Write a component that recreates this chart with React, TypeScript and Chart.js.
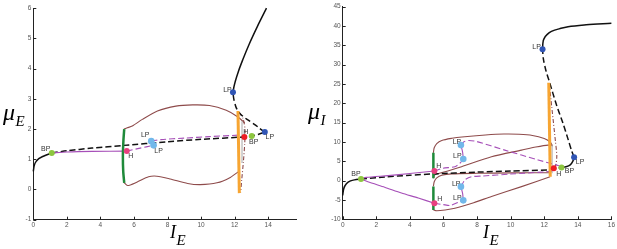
import React, { useEffect, useRef } from "react";
import { Chart, registerables } from "chart.js";
Chart.register(...registerables);

type P = [number, number];

// ===== Left panel: mu_E versus I_E =====
const eStableLow: P[] = [[0, 0.6], [0.05, 0.78], [0.2, 0.95], [0.6, 1.1], [1.1, 1.21]];
const eUnstableMid: P[] = [[1.1, 1.21], [2, 1.28], [3.5, 1.37], [5.4, 1.46], [8, 1.58], [10, 1.66], [12.58, 1.74], [13.02, 1.77], [13.4, 1.82], [13.8, 1.9]];
const eUnstableFold: P[] = [[13.8, 1.9], [13.5, 2.02], [13.2, 2.15], [12.74, 2.32], [12.34, 2.5], [12.1, 2.7], [11.95, 3.0], [11.9, 3.22]];
const eStableHigh: P[] = [[11.9, 3.22], [11.96, 3.4], [12.05, 3.6], [12.22, 3.9], [12.49, 4.3], [12.86, 4.8], [13.36, 5.4], [13.9, 6.0]];
const ePerStable: P[] = [[1.1, 1.21], [2, 1.24], [3.5, 1.26], [5.57, 1.27]];
const ePerUnstableA: P[] = [[5.57, 1.27], [6.3, 1.36], [7.17, 1.46]];
const ePerFold: P[] = [[7.17, 1.46], [7.1, 1.53], [7.03, 1.6]];
const ePerUnstableB: P[] = [[7.03, 1.6], [7.6, 1.65], [9, 1.7], [10.5, 1.75], [12.3, 1.8]];
const eOrbitTop: P[] = [[5.4, 2.0], [5.6, 2.04], [5.9, 2.1], [6.5, 2.32], [7.4, 2.6], [8.5, 2.76], [9.5, 2.8], [10.5, 2.78], [11.5, 2.62], [12.2, 2.4], [12.6, 2.2]];
const eOrbitBottom: P[] = [[5.4, 0.24], [5.62, 0.13], [6.17, 0.24], [6.87, 0.42], [7.37, 0.44], [8.16, 0.35], [9.2, 0.2], [9.95, 0.16], [10.95, 0.22], [11.74, 0.4], [12.25, 0.6]];
const eOrbitDashDot: P[] = [[12.28, 2.55], [12.5, 2.35], [12.62, 2.0], [12.6, 1.5], [12.52, 0.9], [12.42, 0.3], [12.36, -0.1]];
const eGreen: P[] = [[5.42, 2.0], [5.37, 1.6], [5.34, 1.1], [5.36, 0.6], [5.42, 0.22]];
const eOrange: P[] = [[12.2, 2.6], [12.28, -0.12]];
const eGray: P[] = [[12.44, 2.26], [12.44, 0.88]];
const eBP: P[] = [[1.1, 1.21], [13.02, 1.77]];
const eHpink: P[] = [[5.57, 1.27]];
const eHred: P[] = [[12.58, 1.74]];
const eLPlight: P[] = [[7.03, 1.6], [7.17, 1.46]];
const eLPdark: P[] = [[11.9, 3.22], [13.8, 1.9]];

// ===== Right panel: mu_I versus I_E =====
const iStableLow: P[] = [[0, -3.8], [0.05, -2.3], [0.15, -1.2], [0.35, -0.3], [0.7, 0.2], [1.09, 0.44]];
const iUnstableMid: P[] = [[1.09, 0.44], [2.5, 0.95], [4, 1.4], [5.39, 1.73], [8, 2.2], [10, 2.5], [12.23, 2.77], [12.57, 3.1], [13.03, 3.37]];
const iStableHook: P[] = [[13.03, 3.37], [13.3, 3.6], [13.55, 4.1], [13.7, 5.0], [13.78, 6.05]];
const iUnstableFold: P[] = [[13.78, 6.05], [13.62, 7.9], [13.4, 11], [13.12, 14.8], [12.7, 20], [12.33, 25.3], [12.1, 28.5], [11.95, 31.5], [11.9, 34]];
const iStableHigh: P[] = [[11.9, 34], [11.92, 35.5], [12.0, 36.8], [12.2, 37.9], [12.43, 38.6], [13, 39.4], [13.42, 39.8], [14.5, 40.3], [16, 40.7]];
const iPerUpStable: P[] = [[1.09, 0.44], [1.4, 0.85], [2.7, 1.3], [4, 1.85], [5.46, 2.5]];
const iPerUpUnstA: P[] = [[5.46, 2.5], [5.98, 3.2], [6.68, 3.6], [6.98, 4.5], [7.18, 5.6]];
const iPerUpFold: P[] = [[7.18, 5.6], [7.14, 7.4], [7.04, 9.2]];
const iPerUpUnstB: P[] = [[7.04, 9.2], [7.2, 10.0], [7.5, 10.4], [8, 10.1], [9.65, 7.9], [11.64, 5.35], [12.83, 3.9], [13.03, 3.5]];
const iPerLowStable: P[] = [[1.09, 0.44], [1.5, -0.3], [2.5, -1.7], [3.5, -3.2], [4.5, -4.5], [5.46, -5.85]];
const iPerLowUnstA: P[] = [[5.46, -5.85], [6.0, -6.2], [6.4, -6.4], [6.88, -5.6], [7.18, -5.1]];
const iPerLowFold: P[] = [[7.18, -5.1], [7.14, -3.3], [7.04, -1.55]];
const iPerLowUnstB: P[] = [[7.04, -1.55], [7.28, 0.2], [7.67, 1.0], [8.36, 1.2], [10, 1.7], [12.13, 2.3], [12.5, 2.5]];
const iOrbitA: P[] = [[5.4, 7.2], [5.45, 8.5], [5.6, 9.6], [5.9, 10.4], [6.5, 10.95], [7.1, 11.3], [8.5, 11.8], [9.6, 12.05], [10.5, 12.0], [11.3, 11.7], [12.0, 10.9], [12.35, 10.0], [12.5, 9.0]];
const iOrbitB: P[] = [[5.4, 0.6], [5.49, 1.5], [6.09, 2.3], [7.08, 3.6], [8.86, 6.2], [10.65, 7.9], [11.5, 8.7], [12.23, 9.2], [12.5, 9.0]];
const iOrbitC: P[] = [[5.4, -1.5], [5.45, -0.3], [5.6, 0.7], [5.9, 1.4], [6.5, 1.75], [8, 1.9], [10, 2.0], [12.35, 2.05]];
const iOrbitD: P[] = [[5.4, -7.6], [5.6, -7.8], [6.1, -7.6], [6.68, -7.15], [7.8, -5.7], [8.86, -4.1], [10.65, -1.55], [12.35, 1.0]];
const iOrbitDashDot: P[] = [[12.3, 25.2], [12.45, 19], [12.55, 15], [12.67, 10.1], [12.75, 6.5], [12.7, 4.2], [12.6, 3.3]];
const iOrange: P[] = [[12.27, 25.3], [12.36, 1.0]];
const iGreenUp: P[] = [[5.4, 7.2], [5.4, 0.6]];
const iGreenLow: P[] = [[5.4, -1.5], [5.4, -7.6]];
const iGray: P[] = [[12.47, 9.2], [12.47, 1.9]];
const iBP: P[] = [[1.09, 0.44], [13.03, 3.37]];
const iHpink: P[] = [[5.46, 2.5], [5.46, -5.85]];
const iHred: P[] = [[12.57, 3.2]];
const iLPlight: P[] = [[7.04, 9.2], [7.18, 5.6], [7.04, -1.55], [7.18, -5.1]];
const iLPdark: P[] = [[11.9, 34], [13.78, 6.05]];

// tick settings
const leftX = { min: 0, max: 15.7, step: 2 };
const leftY = { min: -1, max: 6, step: 1 };
const rightX = { min: 0, max: 16, step: 2 };
const rightY = { min: -10, max: 45, step: 5 };

// ===== styles =====
const BLACK = "#111111";
const PURPLE = "#a64fb8";
const BROWN = "#8e4b4b";
const GREEN = "#1f8a3a";
const ORANGE = "#f7a532";
const GRAY = "#b5b5b5";
const C_BP = "#8dc63f";
const C_HP = "#e8407f";
const C_HR = "#ee1c24";
const C_LPL = "#72b8ea";
const C_LPD = "#3055b5";
const DASH = [6, 3];
const DASHDOT = [4, 2, 1, 2];
const SERIF = '"Liberation Serif", "DejaVu Serif", serif';
const SANS = '"Liberation Sans", Arial, sans-serif';

type LineSpec = { pts: P[]; color: string; w: number; dash?: number[]; t?: number; mono?: boolean };
type MarkSpec = { pts: P[]; color: string; tag: string; offs: P[]; r?: number };

const toXY = (pts: P[]) => pts.map(([x, y]) => ({ x, y }));

const tagsPlugin = {
  id: "pointTags",
  afterDatasetsDraw(chart: any) {
    const ctx = chart.ctx;
    ctx.save();
    ctx.font = `7px ${SANS}`;
    ctx.fillStyle = "#333";
    ctx.textAlign = "center";
    ctx.textBaseline = "middle";
    chart.data.datasets.forEach((ds: any, i: number) => {
      if (!ds.tag) return;
      const meta = chart.getDatasetMeta(i);
      meta.data.forEach((el: any, j: number) => {
        const o = ds.offs[j] || [0, 0];
        ctx.fillText(ds.tag, el.x + o[0], el.y + o[1]);
      });
    });
    ctx.restore();
  },
};

const ticksPlugin = {
  id: "inwardTicks",
  afterDraw(chart: any) {
    const { ctx, chartArea: a, scales } = chart;
    ctx.save();
    ctx.strokeStyle = "#222";
    ctx.lineWidth = 1;
    ctx.beginPath();
    scales.x.ticks.forEach((t: any) => {
      const px = Math.round(scales.x.getPixelForValue(t.value)) + 0.5;
      ctx.moveTo(px, a.bottom);
      ctx.lineTo(px, a.bottom - 3);
    });
    scales.y.ticks.forEach((t: any) => {
      const py = Math.round(scales.y.getPixelForValue(t.value)) + 0.5;
      ctx.moveTo(a.left, py);
      ctx.lineTo(a.left + 3, py);
    });
    ctx.stroke();
    ctx.restore();
  },
};

type TitleSpec = { main: string; sub: string; x: number; y: number; size: number; subSize: number; drop: number };

const titlesPlugin = {
  id: "axisTitlesMath",
  afterDraw(chart: any, _a: any, opts: any) {
    const ctx = chart.ctx;
    ctx.save();
    ctx.fillStyle = "#000";
    ctx.textBaseline = "alphabetic";
    ctx.textAlign = "left";
    (opts.items || []).forEach((t: TitleSpec) => {
      ctx.font = `italic ${t.size}px ${SERIF}`;
      ctx.fillText(t.main, t.x, t.y);
      const w = ctx.measureText(t.main).width;
      ctx.font = `italic ${t.subSize}px ${SERIF}`;
      ctx.fillText(t.sub, t.x + w + 0.5, t.y + t.drop);
    });
    ctx.restore();
  },
};

function buildConfig(
  lines: LineSpec[],
  marks: MarkSpec[],
  xs: { min: number; max: number; step: number },
  ys: { min: number; max: number; step: number },
  pad: { left: number; right: number; top: number },
  yW: number,
  xH: number,
  titles: TitleSpec[]
) {
  const datasets: any[] = [];
  lines.forEach((l) =>
    datasets.push({
      data: toXY(l.pts),
      showLine: true,
      borderColor: l.color,
      borderWidth: l.w,
      borderDash: l.dash || [],
      pointRadius: 0,
      tension: l.t ?? 0.25,
      cubicInterpolationMode: l.mono ? "monotone" : "default",
      fill: false,
    })
  );
  marks.forEach((m) =>
    datasets.push({
      data: toXY(m.pts),
      showLine: false,
      pointRadius: m.r ?? 3,
      pointBackgroundColor: m.color,
      pointBorderWidth: 0,
      tag: m.tag,
      offs: m.offs,
    })
  );
  const n = datasets.length;
  datasets.forEach((d, i) => (d.order = n - i));
  const tickFont = { family: SANS, size: 6.5 };
  return {
    type: "scatter" as const,
    data: { datasets },
    plugins: [tagsPlugin, ticksPlugin, titlesPlugin],
    options: {
      animation: false,
      responsive: false,
      devicePixelRatio: 1,
      clip: 6,
      layout: { padding: { left: pad.left, right: pad.right, top: pad.top, bottom: 0 } },
      plugins: { legend: { display: false }, tooltip: { enabled: false }, axisTitlesMath: { items: titles } },
      scales: {
        x: {
          type: "linear",
          min: xs.min,
          max: xs.max,
          afterFit: (s: any) => {
            s.height = xH;
          },
          ticks: { stepSize: xs.step, includeBounds: false, color: "#555", font: tickFont, padding: 2, maxRotation: 0 },
          grid: { display: true, drawOnChartArea: false, drawTicks: false },
          border: { display: true, color: "#222", width: 1 },
        },
        y: {
          type: "linear",
          min: ys.min,
          max: ys.max,
          afterFit: (s: any) => {
            s.width = yW;
          },
          ticks: { stepSize: ys.step, includeBounds: false, color: "#555", font: tickFont, padding: 2 },
          grid: { display: true, drawOnChartArea: false, drawTicks: false },
          border: { display: true, color: "#222", width: 1 },
        },
      },
    },
  };
}

const leftLines: LineSpec[] = [
  { pts: eOrbitTop, color: BROWN, w: 1.1 },
  { pts: eOrbitBottom, color: BROWN, w: 1.1 },
  { pts: eOrbitDashDot, color: BROWN, w: 1.1, dash: DASHDOT },
  { pts: eGray, color: GRAY, w: 1.2, t: 0 },
  { pts: eStableLow, color: BLACK, w: 1.5, mono: true },
  { pts: eUnstableMid, color: BLACK, w: 1.5, dash: DASH },
  { pts: eUnstableFold, color: BLACK, w: 1.5, dash: DASH },
  { pts: eStableHigh, color: BLACK, w: 1.5, mono: true },
  { pts: ePerStable, color: PURPLE, w: 1.1 },
  { pts: ePerUnstableA, color: PURPLE, w: 1.1, dash: DASH },
  { pts: ePerFold, color: PURPLE, w: 1.1 },
  { pts: ePerUnstableB, color: PURPLE, w: 1.1, dash: DASH },
  { pts: eGreen, color: GREEN, w: 2.5 },
  { pts: eOrange, color: ORANGE, w: 3, t: 0 },
];
const leftMarks: MarkSpec[] = [
  { pts: eBP, color: C_BP, tag: "BP", offs: [[-6, -4], [2, 6]] },
  { pts: eHpink, color: C_HP, tag: "H", offs: [[4, 5]] },
  { pts: eHred, color: C_HR, tag: "H", offs: [[1.5, -5]] },
  { pts: eLPlight, color: C_LPL, tag: "LP", offs: [[-6, -6], [5, 6]], r: 3.3 },
  { pts: eLPdark, color: C_LPD, tag: "LP", offs: [[-5.5, -2.5], [5, 5]] },
];

const rightLines: LineSpec[] = [
  { pts: iOrbitA, color: BROWN, w: 1.1 },
  { pts: iOrbitB, color: BROWN, w: 1.1 },
  { pts: iOrbitC, color: BROWN, w: 1.1 },
  { pts: iOrbitD, color: BROWN, w: 1.1 },
  { pts: iOrbitDashDot, color: BROWN, w: 1.1, dash: DASHDOT },
  { pts: iGray, color: GRAY, w: 1.2, t: 0 },
  { pts: iStableLow, color: BLACK, w: 1.5, mono: true },
  { pts: iUnstableMid, color: BLACK, w: 1.5, dash: DASH },
  { pts: iStableHook, color: BLACK, w: 1.5 },
  { pts: iUnstableFold, color: BLACK, w: 1.5, dash: DASH },
  { pts: iStableHigh, color: BLACK, w: 1.5, mono: true },
  { pts: iPerUpStable, color: PURPLE, w: 1.1 },
  { pts: iPerUpUnstA, color: PURPLE, w: 1.1, dash: DASH },
  { pts: iPerUpFold, color: PURPLE, w: 1.1 },
  { pts: iPerUpUnstB, color: PURPLE, w: 1.1, dash: DASH },
  { pts: iPerLowStable, color: PURPLE, w: 1.1 },
  { pts: iPerLowUnstA, color: PURPLE, w: 1.1, dash: DASH },
  { pts: iPerLowFold, color: PURPLE, w: 1.1 },
  { pts: iPerLowUnstB, color: PURPLE, w: 1.1, dash: DASH },
  { pts: iGreenUp, color: GREEN, w: 2.5, t: 0 },
  { pts: iGreenLow, color: GREEN, w: 2.5, t: 0 },
  { pts: iOrange, color: ORANGE, w: 3, t: 0 },
];
const rightMarks: MarkSpec[] = [
  { pts: iBP, color: C_BP, tag: "BP", offs: [[-5, -4.5], [8, 3]] },
  { pts: iHpink, color: C_HP, tag: "H", offs: [[4.5, -4.7], [5.5, -4]] },
  { pts: iHred, color: C_HR, tag: "H", offs: [[5, 5.5]] },
  { pts: iLPlight, color: C_LPL, tag: "LP", offs: [[-4, -3], [-6, -3], [-4.7, -2.5], [-6, -2.4]], r: 3.3 },
  { pts: iLPdark, color: C_LPD, tag: "LP", offs: [[-6, -2], [6, 5]] },
];

function Panel(props: { cfg: any; left: number; width: number }) {
  const ref = useRef<HTMLCanvasElement>(null);
  useEffect(() => {
    const c = new Chart(ref.current as HTMLCanvasElement, props.cfg as any);
    return () => c.destroy();
  }, []);
  return (
    <canvas
      ref={ref}
      width={props.width}
      height={249}
      style={{ position: "absolute", left: props.left, top: 0, width: props.width, height: 249 }}
    />
  );
}

export default function App() {
  const leftCfg = buildConfig(
    leftLines,
    leftMarks,
    leftX,
    leftY,
    { left: 0, right: 305 - 296.7, top: 8.2 },
    33.3,
    249 - 219.7,
    [
      { main: "μ", sub: "E", x: 3, y: 120, size: 24, subSize: 15, drop: 6 },
      { main: "I", sub: "E", x: 170, y: 238, size: 18, subSize: 15, drop: 7 },
    ]
  );
  const rightCfg = buildConfig(
    rightLines,
    rightMarks,
    rightX,
    rightY,
    { left: 0, right: 312 - 306.7, top: 6.7 },
    37.7,
    249 - 219.3,
    [
      { main: "μ", sub: "I", x: 3, y: 119, size: 24, subSize: 15, drop: 6 },
      { main: "I", sub: "E", x: 178, y: 238, size: 18, subSize: 15, drop: 7 },
    ]
  );
  return (
    <div style={{ position: "fixed", left: 0, top: 0, width: 617, height: 249, background: "#fff" }}>
      <Panel cfg={leftCfg} left={0} width={305} />
      <Panel cfg={rightCfg} left={305} width={312} />
    </div>
  );
}
